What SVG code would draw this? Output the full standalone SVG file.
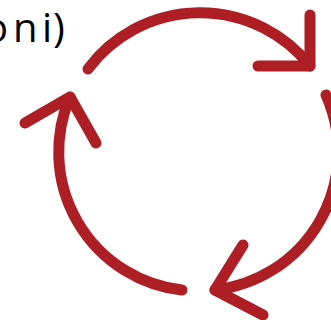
<svg xmlns="http://www.w3.org/2000/svg" width="331" height="320" viewBox="0 0 331 320">
<style>
.c{fill:none;stroke:#AD1F24;stroke-width:11;stroke-linecap:round;stroke-linejoin:round}
.t{font-family:"Open Sans","Liberation Sans",sans-serif;font-size:40px;fill:#000}
</style>
<rect width="331" height="320" fill="#fff"/>
<g id="label"><text class="t" x="-16 13 42 53" y="42">oni)</text></g>
<g id="connectors">
<path class="c" d="M88 69 A140 140 0 0 1 310 66"/>
<path class="c" d="M310 15 L310 66 L258 66"/>
<path class="c" d="M326 95 A139 139 0 0 1 215 290"/>
<path class="c" d="M243 245 L215 290 L263 315"/>
<path class="c" d="M182 290 A139 139 0 0 1 70 97"/>
<path class="c" d="M25 123 L70 97 L96 143"/>
</g>
</svg>
